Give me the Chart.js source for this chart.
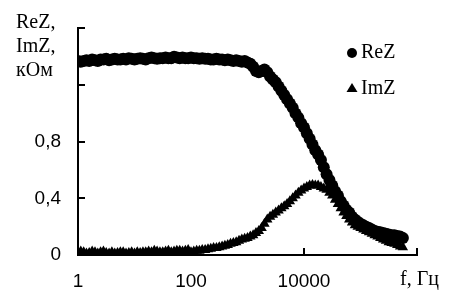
<!DOCTYPE html>
<html lang="ru">
<head>
  <meta charset="UTF-8" />
  <title>ReZ, ImZ</title>
  <script src="https://cdn.jsdelivr.net/npm/chart.js"></script>
  <style>
    html, body { margin: 0; padding: 0; background: #fff; }
    #wrap { position: relative; width: 469px; height: 301px; }
  </style>
</head>
<body>
  <div id="wrap"><canvas id="chart" width="469" height="301"></canvas></div>
  <script>
    // frequency, Hz (20 points per decade)
    const freq = [
      1, 1.12, 1.26, 1.41, 1.58, 1.78, 2, 2.24, 2.51, 2.82, 3.16, 3.55, 3.98, 4.47, 5.01, 5.62, 6.31, 7.08, 7.94, 8.91,
      10, 11.2, 12.6, 14.1, 15.8, 17.8, 20, 22.4, 25.1, 28.2, 31.6, 35.5, 39.8, 44.7, 50.1, 56.2, 63.1, 70.8, 79.4, 89.1,
      100, 112, 126, 141, 158, 178, 200, 224, 251, 282, 316, 355, 398, 447, 501, 562, 631, 708, 794, 891,
      1000, 1122, 1259, 1413, 1585, 1778, 1995, 2239, 2512, 2818, 3162, 3548, 3981, 4467, 5012, 5623, 6310, 7079, 7943, 8913,
      10000, 11220, 12589, 14125, 15849, 17783, 19953, 22387, 25119, 28184, 31623, 35481, 39811, 44668, 50119, 56234, 63096, 70795, 79433, 89125,
      100000, 112202, 125893, 141254, 158489, 177828, 199526, 223872, 251189, 281838, 316228, 354813, 398107, 446684, 501187, 562341
    ];
    // kOhm
    const reZ = [
      1.37, 1.365, 1.37, 1.375, 1.37, 1.38, 1.375, 1.37, 1.38, 1.38, 1.385, 1.375, 1.38, 1.385, 1.38, 1.38, 1.385, 1.38, 1.39, 1.385,
      1.38, 1.385, 1.39, 1.385, 1.38, 1.39, 1.395, 1.39, 1.385, 1.39, 1.39, 1.395, 1.39, 1.39, 1.40, 1.395, 1.39, 1.395, 1.39, 1.39,
      1.395, 1.39, 1.39, 1.385, 1.39, 1.385, 1.385, 1.38, 1.38, 1.385, 1.38, 1.38, 1.375, 1.38, 1.375, 1.37, 1.375, 1.37, 1.365, 1.37,
      1.36, 1.35, 1.33, 1.30, 1.29, 1.30, 1.31, 1.29, 1.26, 1.24, 1.22, 1.19, 1.16, 1.13, 1.10, 1.07, 1.04, 1.00, 0.97, 0.93,
      0.90, 0.86, 0.82, 0.78, 0.74, 0.71, 0.67, 0.62, 0.57, 0.53, 0.49, 0.45, 0.42, 0.38, 0.35, 0.32, 0.30, 0.27, 0.25, 0.235,
      0.22, 0.21, 0.20, 0.19, 0.18, 0.17, 0.165, 0.16, 0.155, 0.15, 0.145, 0.14, 0.14, 0.135, 0.13, 0.12
    ];
    const imZ = [
      0.02, 0.025, 0.02, 0.01, 0.015, 0.025, 0.02, 0.01, 0.02, 0.025, 0.015, 0.01, 0.02, 0.01, 0.015, 0.02, 0.02, 0.01, 0.015, 0.02,
      0.01, 0.02, 0.015, 0.02, 0.02, 0.025, 0.02, 0.03, 0.025, 0.02, 0.02, 0.025, 0.03, 0.02, 0.025, 0.03, 0.03, 0.025, 0.03, 0.035,
      0.02, 0.025, 0.03, 0.03, 0.035, 0.035, 0.04, 0.045, 0.05, 0.05, 0.055, 0.06, 0.065, 0.07, 0.08, 0.085, 0.09, 0.10, 0.11, 0.115,
      0.12, 0.13, 0.14, 0.155, 0.17, 0.19, 0.22, 0.25, 0.27, 0.285, 0.30, 0.315, 0.33, 0.345, 0.36, 0.38, 0.40, 0.42, 0.44, 0.455,
      0.47, 0.48, 0.49, 0.495, 0.49, 0.49, 0.48, 0.47, 0.46, 0.44, 0.42, 0.39, 0.36, 0.33, 0.30, 0.275, 0.25, 0.23, 0.21, 0.20,
      0.19, 0.18, 0.17, 0.16, 0.15, 0.14, 0.13, 0.12, 0.11, 0.10, 0.09, 0.085, 0.08, 0.07, 0.06, 0.055
    ];
    const xTicks = [1, 100, 10000, 1000000];
    const xTickLabels = ['1', '100', '10000', ''];
    const yTicks = [0, 0.4, 0.8, 1.2, 1.6];
    const yTickLabels = ['0', '0,4', '0,8', '', ''];
    const seriesNames = ['ReZ', 'ImZ'];
    const yTitle = ['ReZ,', 'ImZ,', 'кОм'];
    const xTitle = 'f, Гц';

    const serif = '"Liberation Serif", "Times New Roman", serif';
    const sans = '"Liberation Sans", Arial, sans-serif';

    const pts = vals => freq.map((f, i) => ({ x: f, y: vals[i] }));

    // inner tick marks, titles and legend
    const extras = {
      id: 'extras',
      beforeDatasetsDraw(chart) {
        const { ctx, chartArea: a, scales: { x, y } } = chart;
        ctx.save();
        ctx.strokeStyle = '#000';
        ctx.lineWidth = 2;
        ctx.beginPath();
        xTicks.slice(1).forEach(v => {
          const px = Math.round(x.getPixelForValue(v));
          ctx.moveTo(px, a.bottom);
          ctx.lineTo(px, a.bottom - 7);
        });
        yTicks.slice(1).forEach(v => {
          const py = Math.round(y.getPixelForValue(v));
          ctx.moveTo(a.left, py);
          ctx.lineTo(a.left + 7, py);
        });
        ctx.stroke();
        ctx.restore();
      },
      afterDraw(chart) {
        const { ctx } = chart;
        ctx.save();
        ctx.fillStyle = '#000';
        ctx.font = '20px ' + serif;
        ctx.textBaseline = 'middle';
        ctx.textAlign = 'left';
        yTitle.forEach((t, i) => ctx.fillText(t, 16, 23 + i * 24));
        ctx.fillText(xTitle, 400, 280);

        // legend
        ctx.fillText(seriesNames[0], 361, 53);
        ctx.fillText(seriesNames[1], 361, 89);
        ctx.beginPath();
        ctx.arc(352, 53, 5, 0, Math.PI * 2);
        ctx.fill();
        ctx.beginPath();
        ctx.moveTo(352, 83);
        ctx.lineTo(357.5, 92);
        ctx.lineTo(346.5, 92);
        ctx.closePath();
        ctx.fill();
        ctx.restore();
      }
    };

    new Chart(document.getElementById('chart'), {
      type: 'scatter',
      data: {
        datasets: [
          {
            label: seriesNames[0], data: pts(reZ), pointStyle: 'circle',
            pointRadius: 6, backgroundColor: '#000', borderColor: '#000', borderWidth: 0
          },
          {
            label: seriesNames[1], data: pts(imZ), pointStyle: 'triangle',
            pointRadius: 6, backgroundColor: '#000', borderColor: '#000', borderWidth: 0
          }
        ]
      },
      options: {
        responsive: false,
        animation: false,
        layout: { padding: { left: 0, right: 52, top: 16, bottom: 0 } },
        plugins: { legend: { display: false }, tooltip: { enabled: false } },
        scales: {
          x: {
            type: 'logarithmic',
            min: 1, max: 1000000,
            afterBuildTicks: s => { s.ticks = xTicks.map(v => ({ value: v })); },
            afterFit: s => { s.height = 46; },
            grid: { display: false, drawTicks: false },
            border: { display: true, color: '#000', width: 2 },
            ticks: {
              autoSkip: false, maxRotation: 0, padding: 15, color: '#000',
              font: { family: sans, size: 19 },
              callback: (v) => xTickLabels[xTicks.indexOf(v)] ?? ''
            }
          },
          y: {
            min: 0, max: 1.6,
            afterBuildTicks: s => { s.ticks = yTicks.map(v => ({ value: v })); },
            afterFit: s => { s.width = 78; },
            grid: { display: false, drawTicks: false },
            border: { display: true, color: '#000', width: 2 },
            ticks: {
              padding: 17, color: '#000',
              font: { family: sans, size: 19 },
              callback: (v) => {
                const i = yTicks.findIndex(t => Math.abs(t - v) < 1e-9);
                return i >= 0 ? yTickLabels[i] : '';
              }
            }
          }
        }
      },
      plugins: [extras]
    });
  </script>
</body>
</html>
